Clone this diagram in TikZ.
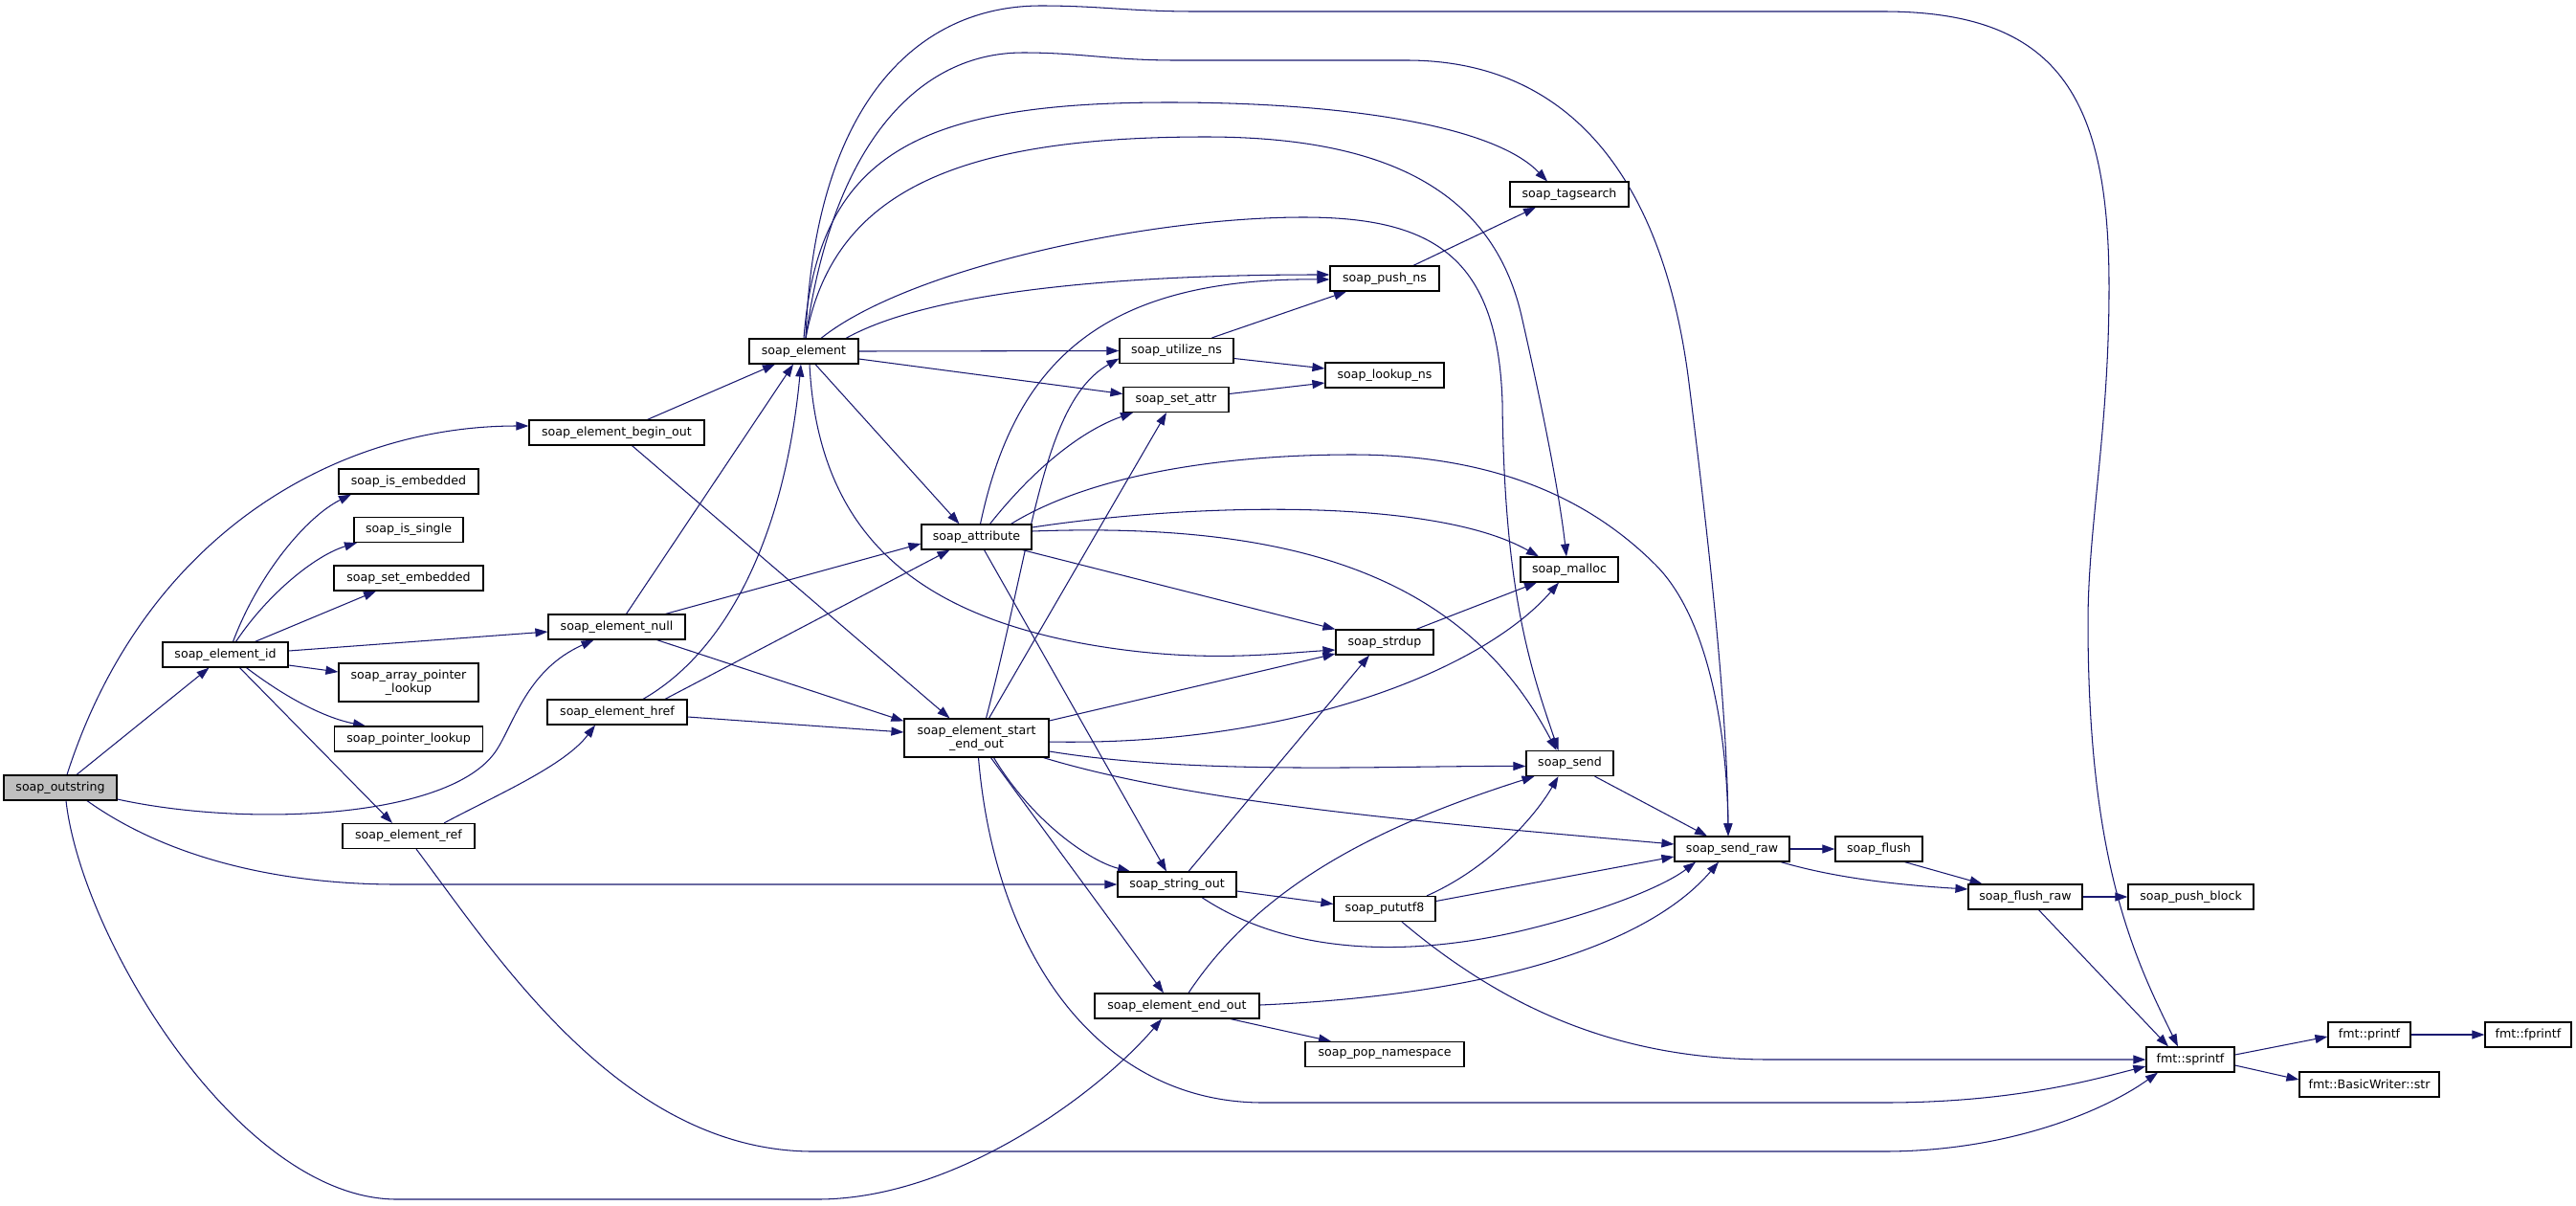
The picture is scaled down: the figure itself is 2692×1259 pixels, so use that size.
\documentclass[tikz,border=0pt]{standalone}
\usepackage{fontspec}
\setmainfont{DejaVu Sans}
\usetikzlibrary{arrows.meta}
\definecolor{edgec}{RGB}{25,25,112}
\definecolor{rootfill}{RGB}{191,191,191}
\pgfdeclarelayer{bg}
\pgfsetlayers{bg,main}
\begin{document}
\begin{tikzpicture}[x=1pt,y=-1pt,
  fnbox/.style={draw=black, fill=white, line width=1.2pt, inner sep=0pt, minimum height=26pt, font=\fontsize{12.6}{14.3}\selectfont, align=center},
  cedge/.style={draw=edgec, line width=1.05pt, -{Triangle[length=13pt,width=9pt]}}]
\useasboundingbox (0,0) rectangle (2692,1259);
% nodes
\node[fnbox, fill=rootfill, minimum width=118pt] (O) at (63,823) {soap\_outstring};
\node[fnbox, minimum width=131pt] (ID) at (235.5,684) {soap\_element\_id};
\node[fnbox, minimum width=146pt] (ISE) at (427,503) {soap\_is\_embedded};
\node[fnbox, minimum width=114pt] (ISS) at (427,553.5) {soap\_is\_single};
\node[fnbox, minimum width=156pt] (SEM) at (427,604) {soap\_set\_embedded};
\node[fnbox, minimum width=146pt, minimum height=40pt] (APL) at (427,713) {soap\_array\_pointer\\\_lookup};
\node[fnbox, minimum width=155pt] (PL) at (427,772) {soap\_pointer\_lookup};
\node[fnbox, minimum width=138pt] (RF) at (427,873.5) {soap\_element\_ref};
\node[fnbox, minimum width=183pt] (BO) at (644.5,452) {soap\_element\_begin\_out};
\node[fnbox, minimum width=143pt] (NU) at (644.5,655) {soap\_element\_null};
\node[fnbox, minimum width=146pt] (HR) at (645,744) {soap\_element\_href};
\node[fnbox, minimum width=114pt] (EL) at (840,367) {soap\_element};
\node[fnbox, minimum width=115pt] (AT) at (1020.5,561) {soap\_attribute};
\node[fnbox, minimum width=151pt, minimum height=40pt] (SE) at (1020.5,771) {soap\_element\_start\\\_end\_out};
\node[fnbox, minimum width=119pt] (UN) at (1229.5,366.5) {soap\_utilize\_ns};
\node[fnbox, minimum width=110pt] (SA) at (1229,417.5) {soap\_set\_attr};
\node[fnbox, minimum width=124pt] (SO) at (1230,924) {soap\_string\_out};
\node[fnbox, minimum width=172pt] (EO) at (1230,1051) {soap\_element\_end\_out};
\node[fnbox, minimum width=114pt] (PN) at (1447,291) {soap\_push\_ns};
\node[fnbox, minimum width=124pt] (LN) at (1447,392) {soap\_lookup\_ns};
\node[fnbox, minimum width=102pt] (SD) at (1447,671) {soap\_strdup};
\node[fnbox, minimum width=106pt] (PU) at (1447,949.5) {soap\_pututf8};
\node[fnbox, minimum width=166pt] (PP) at (1447,1101.5) {soap\_pop\_namespace};
\node[fnbox, minimum width=124pt] (TS) at (1640,203) {soap\_tagsearch};
\node[fnbox, minimum width=102pt] (ML) at (1640,595) {soap\_malloc};
\node[fnbox, minimum width=91pt] (SN) at (1640.5,797.5) {soap\_send};
\node[fnbox, minimum width=120pt] (SR) at (1810,887) {soap\_send\_raw};
\node[fnbox, minimum width=91pt] (FL) at (1963.5,887) {soap\_flush};
\node[fnbox, minimum width=119pt] (FR) at (2116.5,937) {soap\_flush\_raw};
\node[fnbox, minimum width=131pt] (PB) at (2289.5,937) {soap\_push\_block};
\node[fnbox, minimum width=92pt] (SP) at (2289,1107) {fmt::sprintf};
\node[fnbox, minimum width=86pt] (PR) at (2476,1081) {fmt::printf};
\node[fnbox, minimum width=90pt] (FP) at (2642,1081) {fmt::fprintf};
\node[fnbox, minimum width=146pt] (BW) at (2476,1133) {fmt::BasicWriter::str};
\begin{pgfonlayer}{bg}
\fill[white] (0,0) rectangle (2692,1259);
% soap_outstring
\draw[cedge] ([xshift=7pt]O.north) .. controls (150,560) and (350,445) .. ([yshift=7pt]BO.west);
\draw[cedge] ([xshift=17pt]O.north) -- ([xshift=-17pt]ID.south);
\draw[cedge] ([yshift=-12pt]O.east) .. controls (260,865) and (470,855) .. (518,785) .. controls (537,757) and (550,700) .. ([xshift=-24pt]NU.south);
\draw[cedge] ([xshift=28pt]O.south) .. controls (180,900) and (300,924) .. (415,924) -- (SO.west);
\draw[cedge] ([xshift=6pt]O.south) .. controls (85,980) and (250,1253) .. (415,1253) -- (854,1253) .. controls (1000,1253) and (1150,1140) .. ([xshift=-16pt]EO.south);
% soap_element_id
\draw[cedge] ([xshift=8pt]ID.north) .. controls (270,600) and (320,540) .. ([xshift=-60pt]ISE.south);
\draw[cedge] ([xshift=11pt]ID.north) .. controls (280,620) and (330,580) .. ([xshift=-54pt]ISS.south);
\draw[cedge] ([xshift=31pt]ID.north) -- ([xshift=-34pt]SEM.south);
\draw[cedge] ([yshift=4pt]ID.east) -- ([yshift=-5pt]NU.west);
\draw[cedge] ([yshift=-11pt]ID.east) -- ([yshift=11pt]APL.west);
\draw[cedge] ([xshift=22pt]ID.south) .. controls (300,730) and (340,750) .. ([xshift=-45pt]PL.north);
\draw[cedge] ([xshift=15pt]ID.south) -- ([xshift=-17pt]RF.north);
% soap_element_ref
\draw[cedge] ([xshift=37pt]RF.north) .. controls (520,830) and (590,800) .. ([xshift=-23pt]HR.south);
\draw[cedge] ([xshift=8pt]RF.south) .. controls (520,1000) and (650,1203) .. (850,1203) -- (1968,1203) .. controls (2100,1203) and (2200,1160) .. ([xshift=-34pt]SP.south);
% begin_out, null, href
\draw[cedge] ([xshift=32pt]BO.north) -- ([xshift=-30pt]EL.south);
\draw[cedge] ([xshift=16pt]BO.south) -- ([xshift=-28pt]SE.north);
\draw[cedge] ([xshift=10pt]NU.north) -- ([xshift=-11pt]EL.south);
\draw[cedge] ([xshift=51pt]NU.north) -- ([yshift=-7pt]AT.west);
\draw[cedge] ([xshift=42pt]NU.south) -- ([yshift=-3pt]SE.north west);
\draw[cedge] ([xshift=27pt]HR.north) .. controls (760,680) and (820,560) .. ([xshift=-3pt]EL.south);
\draw[cedge] ([xshift=50pt]HR.north) -- ([xshift=-28pt]AT.south);
\draw[cedge] ([yshift=-5pt]HR.east) -- ([yshift=6pt]SE.west);
% soap_element
\draw[cedge] ([xshift=2pt]EL.north) .. controls (850,120) and (950,6) .. (1088,6) .. controls (1150,6) and (1180,12) .. (1250,12) -- (1968,12) .. controls (2150,12) and (2204,100) .. (2204,300) .. controls (2204,450) and (2182,550) .. (2182,650) .. controls (2182,900) and (2230,1000) .. ([xshift=-13pt]SP.north);
\draw[cedge] ([xshift=2pt]EL.north) .. controls (870,150) and (960,55) .. (1069,55) .. controls (1130,55) and (1160,63) .. (1230,63) -- (1470,63) .. controls (1650,63) and (1740,200) .. (1765,400) .. controls (1790,600) and (1805,750) .. ([xshift=-4pt]SR.north);
\draw[cedge] (EL.north) .. controls (855,160) and (960,107) .. (1222,107) .. controls (1400,107) and (1560,130) .. ([xshift=-23pt]TS.north);
\draw[cedge] ([xshift=2pt]EL.north) .. controls (870,200) and (1000,143) .. (1260,143) .. controls (1450,143) and (1560,200) .. (1590,330) .. controls (1615,440) and (1630,520) .. ([xshift=-3pt]ML.north);
\draw[cedge] ([xshift=18pt]EL.north) .. controls (950,280) and (1200,227) .. (1362,227) .. controls (1500,227) and (1565,270) .. (1570,420) .. controls (1572,620) and (1600,700) .. ([xshift=-12pt]SN.north);
\draw[cedge] ([xshift=44pt]EL.north) .. controls (980,300) and (1200,287) .. ([yshift=4pt]PN.west);
\draw[cedge] (EL.east) -- (UN.west);
\draw[cedge] ([yshift=-8pt]EL.east) -- ([yshift=6pt]SA.west);
\draw[cedge] ([xshift=12pt]EL.south) -- ([xshift=-18pt]AT.north);
\draw[cedge] ([xshift=6pt]EL.south) .. controls (855,560) and (960,640) .. (1130,672) .. controls (1250,694) and (1330,683) .. ([yshift=-8pt]SD.west);
% soap_attribute
\draw[cedge] ([xshift=4pt]AT.north) .. controls (1060,380) and (1150,290) .. ([yshift=-1pt]PN.west);
\draw[cedge] ([xshift=14pt]AT.north) .. controls (1080,490) and (1130,450) .. ([xshift=-45pt]SA.south);
\draw[cedge] ([xshift=36pt]AT.north) .. controls (1150,490) and (1300,475) .. (1413,475) .. controls (1560,475) and (1660,520) .. (1730,590) .. controls (1790,650) and (1805,780) .. ([xshift=-4pt]SR.north);
\draw[cedge] ([yshift=10pt]AT.east) .. controls (1250,525) and (1500,520) .. ([xshift=-32pt]ML.north);
\draw[cedge] ([yshift=6pt]AT.east) .. controls (1350,545) and (1530,600) .. ([xshift=-14pt]SN.north);
\draw[cedge] ([xshift=48pt]AT.south) -- (SD.north west);
\draw[cedge] ([xshift=8pt]AT.south) -- ([xshift=-11pt]SO.north);
% soap_element_start_end_out
\draw[cedge] ([xshift=10pt]SE.north) .. controls (1080,560) and (1090,420) .. ([yshift=-8pt]UN.west);
\draw[cedge] ([xshift=13pt]SE.north) -- ([xshift=-10pt]SA.south);
\draw[cedge] ([yshift=18pt]SE.east) -- ([yshift=-12pt]SD.west);
\draw[cedge] ([yshift=-4pt]SE.east) .. controls (1350,780) and (1550,700) .. ([xshift=-11pt]ML.south);
\draw[cedge] ([yshift=-14pt]SE.east) .. controls (1250,810) and (1450,800) .. ([yshift=-3pt]SN.west);
\draw[cedge] ([xshift=70pt]SE.south) .. controls (1250,840) and (1500,860) .. ([yshift=5pt]SR.west);
\draw[cedge] ([xshift=18pt]SE.south) .. controls (1080,860) and (1140,900) .. ([xshift=-49pt]SO.north);
\draw[cedge] ([xshift=15pt]SE.south) -- ([xshift=-14pt]EO.north);
\draw[cedge] ([xshift=2pt]SE.south) .. controls (1040,1000) and (1150,1152) .. (1320,1152) -- (1968,1152) .. controls (2100,1152) and (2180,1130) .. ([yshift=-7pt]SP.west);
% others
\draw[cedge] ([xshift=37pt]UN.north) -- ([xshift=-40pt]PN.south);
\draw[cedge] ([yshift=-8pt]UN.east) -- ([yshift=7pt]LN.west);
\draw[cedge] ([yshift=6pt]SA.east) -- ([yshift=-8pt]LN.west);
\draw[cedge] ([xshift=30pt]PN.north) -- ([xshift=-35pt]TS.south);
\draw[cedge] ([xshift=33pt]SD.north) -- ([xshift=-34pt]ML.south);
\draw[cedge] ([xshift=12pt]SO.north) -- ([xshift=-16pt]SD.south);
\draw[cedge] ([yshift=-7pt]SO.east) -- ([yshift=5pt]PU.west);
\draw[cedge] ([xshift=26pt]SO.south) .. controls (1350,1000) and (1480,1000) .. (1600,970) .. controls (1680,950) and (1740,925) .. ([xshift=-38pt]SR.south);
\draw[cedge] ([xshift=44pt]PU.north) .. controls (1550,910) and (1600,860) .. ([xshift=-12pt]SN.south);
\draw[cedge] ([yshift=8pt]PU.east) -- ([yshift=-8pt]SR.west);
\draw[cedge] ([xshift=18pt]PU.south) .. controls (1580,1060) and (1700,1107) .. (1850,1107) -- (SP.west);
\draw[cedge] ([xshift=12pt]EO.north) .. controls (1320,920) and (1450,860) .. ([xshift=-37pt]SN.south);
\draw[cedge] ([yshift=1pt]EO.east) .. controls (1550,1040) and (1720,990) .. ([xshift=-14pt]SR.south);
\draw[cedge] ([xshift=56pt]EO.south) -- ([xshift=-56pt]PP.north);
\draw[cedge] ([xshift=26pt]SN.south) -- ([xshift=-26pt]SR.north);
\draw[cedge] (SR.east) -- (FL.west);
\draw[cedge] ([xshift=51pt]SR.south) .. controls (1920,918) and (1990,925) .. ([yshift=8pt]FR.west);
\draw[cedge] ([xshift=27pt]FL.south) -- ([xshift=-45pt]FR.north);
\draw[cedge] (FR.east) -- (PB.west);
\draw[cedge] ([xshift=14pt]FR.south) -- ([xshift=-23pt]SP.north);
\draw[cedge] ([yshift=5pt]SP.east) -- ([yshift=-2pt]PR.west);
\draw[cedge] ([yshift=-6pt]SP.east) -- ([yshift=5pt]BW.west);
\draw[cedge] (PR.east) -- (FP.west);
\end{pgfonlayer}
\end{tikzpicture}
\end{document}
